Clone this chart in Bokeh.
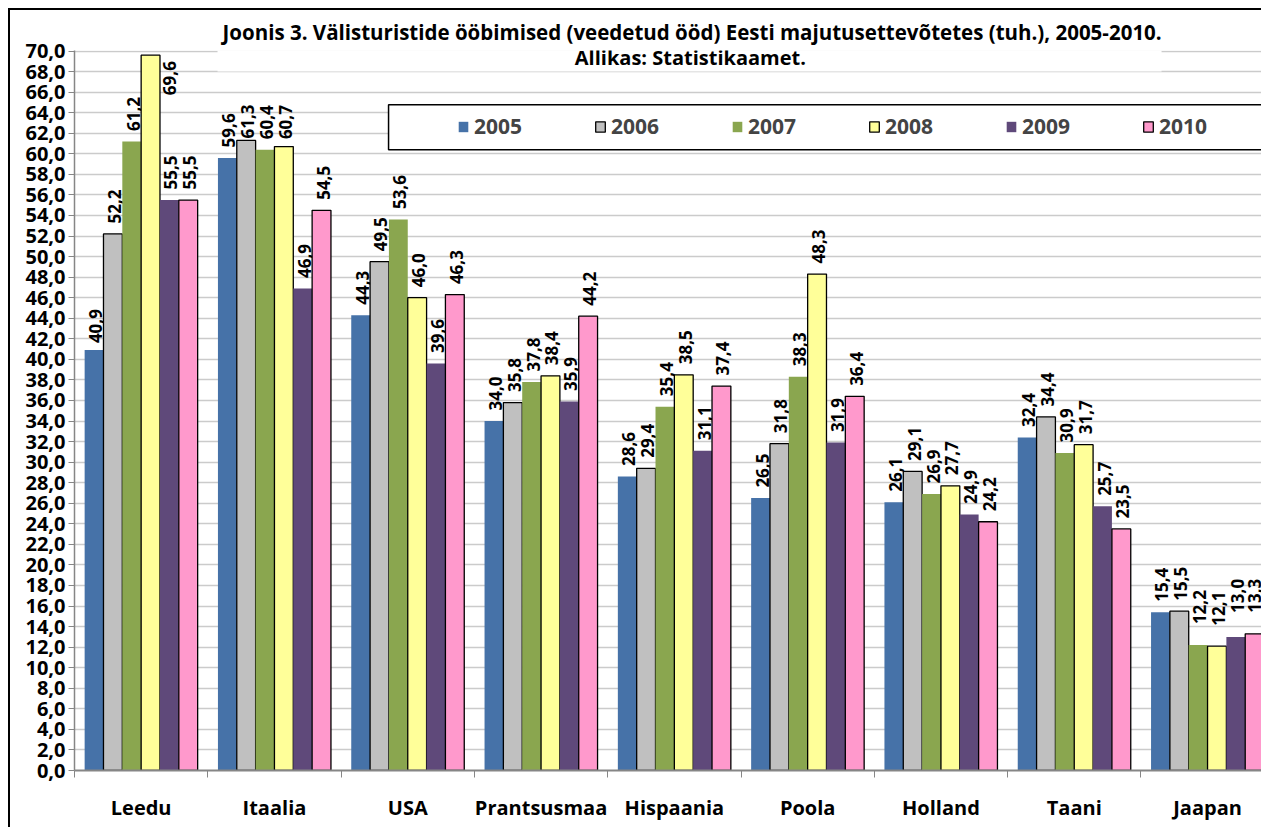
import math
from bokeh.plotting import figure
from bokeh.models import (Range1d, FixedTicker, Label, ColumnDataSource)
from bokeh.core.properties import value
from bokeh.embed import file_html
from bokeh.resources import INLINE

# ---------------- data ----------------
categories = ["Leedu", "Itaalia", "USA", "Prantsusmaa", "Hispaania", "Poola",
              "Holland", "Taani", "Jaapan"]
years = ["2005", "2006", "2007", "2008", "2009", "2010"]
v2005 = [40.9, 59.6, 44.3, 34.0, 28.6, 26.5, 26.1, 32.4, 15.4]
v2006 = [52.2, 61.3, 49.5, 35.8, 29.4, 31.8, 29.1, 34.4, 15.5]
v2007 = [61.2, 60.4, 53.6, 37.8, 35.4, 38.3, 26.9, 30.9, 12.2]
v2008 = [69.6, 60.7, 46.0, 38.4, 38.5, 48.3, 27.7, 31.7, 12.1]
v2009 = [55.5, 46.9, 39.6, 35.9, 31.1, 31.9, 24.9, 25.7, 13.0]
v2010 = [55.5, 54.5, 46.3, 44.2, 37.4, 36.4, 24.2, 23.5, 13.3]
series = [v2005, v2006, v2007, v2008, v2009, v2010]
y_ticks = list(range(0, 72, 2))
title1 = "Joonis 3. Välisturistide ööbimised (veedetud ööd) Eesti majutusettevõtetes (tuh.), 2005-2010."
title2 = "Allikas: Statistikaamet."

# ---------------- styles ----------------
fills = ["#4672A8", "#C0C0C0", "#8AA64F", "#FFFF99", "#5F497A", "#FF99CC"]
lines = [None, "black", None, "black", None, "black"]
FONTNAME = "Open Sans"
FONT = value(FONTNAME)
BAR_W = 0.1413
# label pixel offsets (screen px; negative = up) - manual placements as in the reference
DEF_DY, DEF_DX = -10.5, 1.5
dy_over = {(0, 0): -7, (3, 0): 40, (1, 1): -2, (3, 1): -7.5,
           (2, 8): -21, (3, 8): -20.5, (4, 8): -24, (5, 8): -21}
dx_over = {(3, 0): 19, (5, 8): -0.5}

p = figure(width=1253, height=819, output_backend="svg", toolbar_location=None,
           x_range=Range1d(0, 1189 / 133.3), y_range=Range1d(0, 70.05),
           min_border_left=64, min_border_top=39, min_border_bottom=59,
           min_border_right=0)
p.styles = {"margin-left": "8px", "margin-top": "8px",
            "border-left": "2px solid black", "border-top": "2px solid black"}
p.outline_line_color = None
p.background_fill_color = "white"
p.border_fill_color = "white"

# title (first line above the frame)
p.title.text = title1
p.title.align = "left"
p.title.offset = 148
p.title.standoff = 10
p.title.text_font = FONTNAME
p.title.text_font_style = "bold"
p.title.text_font_size = "20.5px"
p.title.text_color = "black"

# grid
p.xgrid.grid_line_color = None
p.ygrid.grid_line_color = "#CBCBCB"
p.ygrid.grid_line_width = 1.5

# white box behind title (covers top gridlines)
p.quad(left=[1.073], right=[8.155], bottom=[68.0], top=[74], fill_color="white",
       line_color=None)
# legend box
p.quad(left=[2.356], right=[9.5], bottom=[60.39], top=[64.76], fill_color="white",
       line_color="black", line_width=1.5)

for k, (vals, yr) in enumerate(zip(series, years)):
    xs = [i + 0.5 + (k - 2.5) * BAR_W for i in range(len(categories))]
    p.vbar(x=xs, top=vals, bottom=0, width=BAR_W, fill_color=fills[k],
           line_color=lines[k], line_width=1.3, legend_label=yr)
    src = ColumnDataSource(dict(
        x=xs, y=vals,
        t=[("%.1f" % v).replace(".", ",") for v in vals],
        dy=[dy_over.get((k, i), DEF_DY) for i in range(len(vals))],
        dx=[dx_over.get((k, i), DEF_DX) for i in range(len(vals))]))
    p.text(x="x", y="y", text="t", source=src, angle=math.pi / 2,
           text_align="left", text_baseline="middle", x_offset="dx", y_offset="dy",
           text_font=FONT, text_font_style="bold", text_font_size="17px",
           text_color="black")

# second title line (inside the frame, on the white box)
p.add_layout(Label(x=4.62, y=69.35, text=title2, text_align="center",
                   text_baseline="middle", text_font=FONTNAME,
                   text_font_style="bold", text_font_size="20px",
                   text_color="black"))

# legend
lg = p.legend[0]
lg.orientation = "horizontal"
lg.location = (383, 630)
lg.padding = 0
lg.margin = 0
lg.spacing = 0
lg.background_fill_alpha = 0
lg.border_line_color = None
lg.glyph_width = 12
lg.glyph_height = 13
lg.label_standoff = 5
lg.label_width = 120
lg.label_text_font = FONTNAME
lg.label_text_font_style = "bold"
lg.label_text_font_size = "21px"

# y axis
ya = p.yaxis[0]
ya.ticker = FixedTicker(ticks=y_ticks)
ya.major_label_overrides = {t: ("%.1f" % t).replace(".", ",") for t in y_ticks}
ya.axis_line_color = "#868686"
ya.axis_line_width = 1.5
ya.major_tick_line_color = "#868686"
ya.major_tick_out = 6
ya.major_tick_in = 0
ya.minor_tick_line_color = None
ya.major_label_standoff = 3
ya.major_label_text_font = FONTNAME
ya.major_label_text_font_style = "bold"
ya.major_label_text_font_size = "20px"
ya.major_label_text_color = "black"

# x axis
xa = p.xaxis[0]
centers = [i + 0.5 for i in range(len(categories))]
xa.ticker = FixedTicker(ticks=centers, minor_ticks=list(range(len(categories) + 1)))
xa.major_label_overrides = {c: n for c, n in zip(centers, categories)}
xa.axis_line_color = "#868686"
xa.axis_line_width = 2
xa.major_tick_line_color = None
xa.major_tick_out = 0
xa.minor_tick_line_color = "#868686"
xa.minor_tick_out = 7
xa.minor_tick_in = 0
xa.major_label_standoff = 16
xa.major_label_text_font = FONTNAME
xa.major_label_text_font_style = "bold"
xa.major_label_text_font_size = "20px"
xa.major_label_text_color = "black"

open("out.html", "w").write(file_html(p, INLINE))
